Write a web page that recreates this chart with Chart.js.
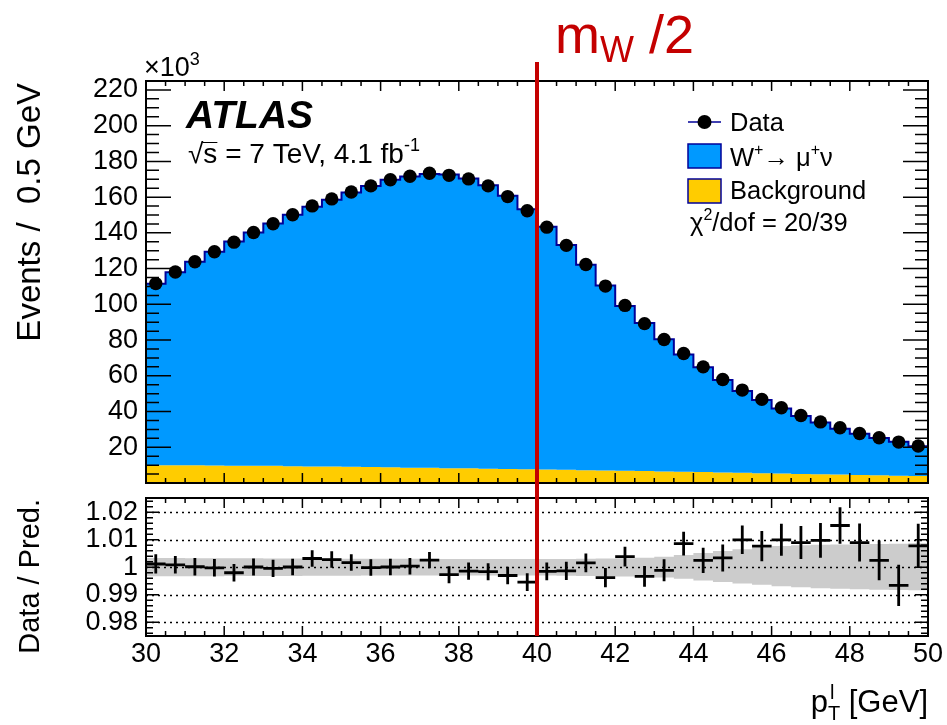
<!DOCTYPE html>
<html>
<head>
<meta charset="utf-8">
<script src="https://cdn.jsdelivr.net/npm/chart.js@4.4.1/dist/chart.umd.min.js"></script>
<style>
  body { margin: 0; background: #fff; }
  #wrap { position: relative; width: 947px; height: 725px; }
  #main { position: absolute; left: 0; top: 0; }
  #ratio { position: absolute; left: 0; top: 490px; }
</style>
</head>
<body>
<div id="wrap">
  <canvas id="main" width="947" height="490"></canvas>
  <canvas id="ratio" width="947" height="235"></canvas>
</div>
<script>
// bin centres, pT of the lepton in GeV (0.5 GeV bins)
var ptBins = [30.25, 30.75, 31.25, 31.75, 32.25, 32.75, 33.25, 33.75, 34.25, 34.75,
              35.25, 35.75, 36.25, 36.75, 37.25, 37.75, 38.25, 38.75, 39.25, 39.75,
              40.25, 40.75, 41.25, 41.75, 42.25, 42.75, 43.25, 43.75, 44.25, 44.75,
              45.25, 45.75, 46.25, 46.75, 47.25, 47.75, 48.25, 48.75, 49.25, 49.75]

// events / 0.5 GeV, in units of 10^3
var dataEvents = [111.6, 118.1, 123.8, 129.4, 134.8, 140.2, 145.1, 150.1, 155.1, 159.0,
                  162.9, 166.3, 169.7, 171.7, 173.4, 172.2, 170.2, 166.3, 160.3, 152.4,
                  143.2, 133.0, 122.3, 110.2, 99.4, 89.2, 80.3, 72.5, 65.0, 57.9,
                  52.0, 46.8, 42.1, 37.8, 34.2, 30.9, 27.7, 25.3, 22.9, 20.7]
var signalWmunu = [101.5, 108.0, 113.9, 119.6, 125.4, 130.5, 135.6, 140.7, 145.3, 149.4,
                   153.5, 157.4, 160.9, 163.0, 164.5, 164.4, 162.2, 158.6, 153.0, 145.5,
                   135.9, 125.8, 114.9, 103.6, 92.1, 82.8, 73.9, 65.6, 58.7, 51.8,
                   45.8, 40.9, 36.4, 32.4, 29.0, 25.7, 23.0, 20.9, 19.0, 16.6]
var background = [10.0, 10.0, 9.9, 9.8, 9.7, 9.7, 9.6, 9.4, 9.3, 9.2,
                  9.1, 8.9, 8.8, 8.6, 8.5, 8.3, 8.2, 8.0, 7.8, 7.7,
                  7.5, 7.4, 7.2, 7.0, 6.9, 6.7, 6.5, 6.3, 6.1, 5.9,
                  5.7, 5.5, 5.3, 5.1, 4.9, 4.7, 4.5, 4.3, 4.1, 3.9]

// data / prediction
var ratio = [1.0012, 1.0009, 1.0002, 0.9998, 0.9980, 1.0001, 0.9996, 1.0001, 1.0032, 1.0028,
             1.0017, 0.9999, 1.0001, 1.0004, 1.0026, 0.9973, 0.9986, 0.9984, 0.9970, 0.9946,
             0.9985, 0.9987, 1.0016, 0.9962, 1.0039, 0.9967, 0.9989, 1.0086, 1.0025, 1.0034,
             1.0100, 1.0077, 1.0100, 1.0090, 1.0098, 1.0152, 1.0090, 1.0025, 0.9934, 1.0078]
var ratioErr = [0.0035, 0.0032, 0.0032, 0.0032, 0.0032, 0.0031, 0.0031, 0.0030, 0.0030, 0.0030,
                0.0030, 0.0030, 0.0030, 0.0030, 0.0030, 0.0031, 0.0031, 0.0031, 0.0032, 0.0032,
                0.0032, 0.0033, 0.0034, 0.0035, 0.0036, 0.0038, 0.0040, 0.0043, 0.0046, 0.0049,
                0.0052, 0.0055, 0.0058, 0.0060, 0.0063, 0.0066, 0.0069, 0.0072, 0.0075, 0.0080]
// prediction uncertainty band (grey), up and down
var bandUp = [0.0034, 0.0034, 0.0033, 0.0033, 0.0033, 0.0033, 0.0032, 0.0032, 0.0032, 0.0032,
              0.0031, 0.0031, 0.0031, 0.0031, 0.0030, 0.0030, 0.0030, 0.0030, 0.0030, 0.0030,
              0.0030, 0.0030, 0.0031, 0.0032, 0.0033, 0.0035, 0.0038, 0.0045, 0.0052, 0.0059,
              0.0066, 0.0072, 0.0077, 0.0080, 0.0082, 0.0083, 0.0084, 0.0085, 0.0086, 0.0087]
var bandDown = [0.0033, 0.0033, 0.0033, 0.0033, 0.0032, 0.0032, 0.0032, 0.0032, 0.0031, 0.0031,
                0.0031, 0.0030, 0.0030, 0.0030, 0.0030, 0.0030, 0.0030, 0.0030, 0.0030, 0.0030,
                0.0030, 0.0031, 0.0032, 0.0033, 0.0034, 0.0035, 0.0037, 0.0042, 0.0048, 0.0054,
                0.0059, 0.0064, 0.0069, 0.0073, 0.0076, 0.0078, 0.0080, 0.0082, 0.0083, 0.0084]

var xTicks = [30, 32, 34, 36, 38, 40, 42, 44, 46, 48, 50]
var yTicksMain = [20, 40, 60, 80, 100, 120, 140, 160, 180, 200, 220]
var yTicksRatio = [0.98, 0.99, 1, 1.01, 1.02]
var mWHalf = 40

var FONT = '"Liberation Sans", Arial, Helvetica, sans-serif'
var RED = '#c40000'
var BLUE = '#0099ff'
var YELLOW = '#ffcc00'
var NAVY = '#000099'

// stepped histogram points: lower edges + closing edge
function histPts(vals) {
  var pts = vals.map((v, i) => ({x: ptBins[i] - 0.25, y: v}))
  pts.push({x: ptBins[ptBins.length - 1] + 0.25, y: vals[vals.length - 1]})
  return pts
}

// draw a run of text pieces: [text, size, dy, weight]
function textRun(ctx, x, y, parts) {
  parts.forEach(p => {
    ctx.font = (p[3] || '') + ' ' + p[1] + 'px ' + FONT
    ctx.fillText(p[0], x, y + (p[2] || 0))
    x += ctx.measureText(p[0]).width
  })
  return x
}

// fixed axis box, no label overflow padding
function fixY(s) {
  s.width = 146
  s.paddingTop = 0
  s.paddingBottom = 0
}

// root-style inside ticks on all four sides + frame
function drawFrame(chart, o) {
  var ctx = chart.ctx, a = chart.chartArea, xs = chart.scales.x, ys = chart.scales.y
  ctx.save()
  ctx.strokeStyle = '#000'
  ctx.lineWidth = 1.5
  ctx.beginPath()
  for (var k = 60; k <= 100; k++) {
    var v = k * 0.5
    var px = xs.getPixelForValue(v)
    var len = (k % 4 == 0) ? o.xMajor : o.xMinor
    ctx.moveTo(px, a.bottom); ctx.lineTo(px, a.bottom - len)
    ctx.moveTo(px, a.top); ctx.lineTo(px, a.top + len)
  }
  var k0 = Math.ceil(ys.min / o.yStep - 1e-6), k1 = Math.floor(ys.max / o.yStep + 1e-6)
  for (var j = k0; j <= k1; j++) {
    var py = ys.getPixelForValue(j * o.yStep)
    var l = (j % o.yEvery == 0) ? o.yMajor : o.yMinor
    ctx.moveTo(a.left, py); ctx.lineTo(a.left + l, py)
    ctx.moveTo(a.right, py); ctx.lineTo(a.right - l, py)
  }
  ctx.stroke()
  ctx.lineWidth = 2
  ctx.strokeRect(a.left, a.top, a.right - a.left, a.bottom - a.top)
  ctx.restore()
}

var mainDecor = {
  id: 'mainDecor',
  afterDraw(chart) {
    var ctx = chart.ctx, xs = chart.scales.x, a = chart.chartArea
    drawFrame(chart, {xMajor: 10, xMinor: 5, yStep: 5, yEvery: 4, yMajor: 25, yMinor: 13})
    ctx.save()
    ctx.fillStyle = '#000'
    ctx.textBaseline = 'alphabetic'
    ctx.textAlign = 'left'
    // x10^3
    textRun(ctx, 144, 76, [['\u00d710', 27], ['3', 18, -11]])
    // ATLAS label
    textRun(ctx, 186, 128, [['ATLAS', 39, 0, 'italic bold']])
    var sx = textRun(ctx, 188, 163, [['\u221a', 28]])
    ctx.font = '28px ' + FONT
    var sw = ctx.measureText('s').width
    ctx.lineWidth = 1
    ctx.beginPath(); ctx.moveTo(sx - 1, 142.5); ctx.lineTo(sx + sw, 142.5); ctx.stroke()
    textRun(ctx, sx, 163, [['s = 7 TeV, 4.1 fb', 28], ['-1', 18, -12]])
    // legend
    ctx.strokeStyle = NAVY
    ctx.lineWidth = 1.5
    ctx.beginPath(); ctx.moveTo(688, 122); ctx.lineTo(721, 122); ctx.stroke()
    ctx.beginPath(); ctx.arc(704.5, 122, 7, 0, Math.PI * 2); ctx.fill()
    ctx.fillStyle = BLUE; ctx.fillRect(688, 144, 33, 24); ctx.strokeRect(688, 144, 33, 24)
    ctx.fillStyle = YELLOW; ctx.fillRect(688, 179, 33, 24); ctx.strokeRect(688, 179, 33, 24)
    ctx.fillStyle = '#000'
    textRun(ctx, 730, 131, [['Data', 25.5]])
    textRun(ctx, 730, 166, [['W', 25.5], ['+', 16, -11], ['\u2192 \u03bc', 25.5], ['+', 16, -11], ['\u03bd', 25.5]])
    textRun(ctx, 730, 199, [['Background', 25.5]])
    textRun(ctx, 690, 231, [['\u03c7', 25.5], ['2', 16, -11], ['/dof = 20/39', 25.5]])
    // m_W / 2 marker
    var rx = xs.getPixelForValue(mWHalf)
    ctx.fillStyle = RED
    textRun(ctx, 555, 53, [['m', 54], ['W', 36, 9], [' /2', 54]])
    ctx.strokeStyle = RED
    ctx.lineWidth = 4
    ctx.beginPath(); ctx.moveTo(rx, 62); ctx.lineTo(rx, chart.height); ctx.stroke()
    // y title
    ctx.fillStyle = '#000'
    ctx.translate(31, 83)
    ctx.rotate(-Math.PI / 2)
    ctx.textAlign = 'right'
    ctx.textBaseline = 'middle'
    ctx.font = '33px ' + FONT
    ctx.fillText('Events /  0.5 GeV', 0, 0)
    ctx.restore()
  }
}

var ratioDecor = {
  id: 'ratioDecor',
  afterDatasetsDraw(chart) {
    var ctx = chart.ctx, a = chart.chartArea, ys = chart.scales.y
    ctx.save()
    ctx.strokeStyle = '#000'
    ctx.lineWidth = 1.5
    ctx.setLineDash([2, 4])
    yTicksRatio.forEach(v => {
      var py = Math.round(ys.getPixelForValue(v)) + 0.5
      ctx.beginPath(); ctx.moveTo(a.left, py); ctx.lineTo(a.right, py); ctx.stroke()
    })
    ctx.restore()
  },
  afterDraw(chart) {
    var ctx = chart.ctx, a = chart.chartArea, xs = chart.scales.x
    drawFrame(chart, {xMajor: 10, xMinor: 5, yStep: 0.002, yEvery: 5, yMajor: 13, yMinor: 7})
    ctx.save()
    var rx = xs.getPixelForValue(mWHalf)
    ctx.strokeStyle = RED
    ctx.lineWidth = 4
    ctx.beginPath(); ctx.moveTo(rx, 0); ctx.lineTo(rx, a.bottom); ctx.stroke()
    ctx.fillStyle = '#000'
    // x title p_T^l [GeV], right aligned on the frame
    ctx.font = '31px ' + FONT
    var w = ctx.measureText('p').width + ctx.measureText(' [GeV]').width
    ctx.font = '20px ' + FONT
    w += ctx.measureText('T').width
    var tx = a.right - w
    var px = textRun(ctx, tx, 222, [['p', 31]])
    textRun(ctx, px, 222, [['T', 20, 8]])
    textRun(ctx, px + 2, 222, [['l', 20, -13]])
    ctx.font = '20px ' + FONT
    textRun(ctx, px + ctx.measureText('T').width, 222, [[' [GeV]', 31]])
    // y title
    ctx.translate(31, 9)
    ctx.rotate(-Math.PI / 2)
    ctx.textAlign = 'right'
    ctx.textBaseline = 'middle'
    ctx.font = '29px ' + FONT
    ctx.fillText('Data / Pred.', 0, 0)
    ctx.restore()
  }
}

var tickFont = {family: FONT, size: 27}
var totalPred = signalWmunu.map((v, i) => v + background[i])

new Chart(document.getElementById('main'), {
  type: 'line',
  data: {
    datasets: [
      { label: 'Background', data: histPts(background), stepped: 'before', fill: 'origin',
        backgroundColor: YELLOW, borderColor: YELLOW, borderWidth: 0, pointRadius: 0, order: 3 },
      { label: 'W+ -> mu+ nu', data: histPts(totalPred), stepped: 'before', fill: 0,
        backgroundColor: BLUE, borderColor: NAVY, borderWidth: 2, pointRadius: 0, order: 2 },
      { label: 'Data', data: ptBins.map((x, i) => ({x: x, y: dataEvents[i]})), showLine: false,
        pointRadius: 6.7, pointBackgroundColor: '#000', pointBorderColor: '#000', pointBorderWidth: 0, order: 1 }
    ]
  },
  options: {
    responsive: false,
    animation: false,
    layout: {padding: {left: 0, right: 19, top: 81, bottom: 7}},
    plugins: {legend: {display: false}, tooltip: {enabled: false}},
    scales: {
      x: { type: 'linear', min: 30, max: 50,
           ticks: {display: false}, grid: {display: false}, border: {display: false},
           afterFit: s => { s.height = 0 } },
      y: { min: 0, max: 225,
           afterBuildTicks: s => { s.ticks = yTicksMain.map(v => ({value: v})) },
           ticks: {font: tickFont, color: '#000', padding: 8, autoSkip: false},
           grid: {display: false, drawTicks: false}, border: {display: false},
           afterFit: fixY }
    }
  },
  plugins: [mainDecor]
})

// crosses for the ratio points, broken with null gaps
var vBars = [], hBars = []
ptBins.forEach((c, i) => {
  vBars.push({x: c, y: ratio[i] - ratioErr[i]}, {x: c, y: ratio[i] + ratioErr[i]}, {x: c, y: null})
  hBars.push({x: c - 0.25, y: ratio[i]}, {x: c + 0.25, y: ratio[i]}, {x: c + 0.25, y: null})
})

new Chart(document.getElementById('ratio'), {
  type: 'line',
  data: {
    datasets: [
      { data: histPts(bandDown.map(v => 1 - v)), stepped: 'before', fill: false,
        borderWidth: 0, borderColor: 'rgba(0,0,0,0)', pointRadius: 0, order: 4 },
      { data: histPts(bandUp.map(v => 1 + v)), stepped: 'before', fill: 0,
        backgroundColor: '#cccccc', borderWidth: 0, borderColor: 'rgba(0,0,0,0)', pointRadius: 0, order: 3 },
      { data: vBars, borderColor: '#000', borderWidth: 2.8, pointRadius: 0, fill: false, spanGaps: false, order: 1 },
      { data: hBars, borderColor: '#000', borderWidth: 2.8, pointRadius: 0, fill: false, spanGaps: false, order: 2 }
    ]
  },
  options: {
    responsive: false,
    animation: false,
    layout: {padding: {left: 0, right: 19, top: 8, bottom: 49}},
    plugins: {legend: {display: false}, tooltip: {enabled: false}},
    scales: {
      x: { type: 'linear', min: 30, max: 50,
           afterBuildTicks: s => { s.ticks = xTicks.map(v => ({value: v})) },
           ticks: {font: tickFont, color: '#000', padding: 2, maxRotation: 0, autoSkip: false},
           grid: {display: false, drawTicks: false}, border: {display: false},
           afterFit: s => { s.height = 40 } },
      y: { min: 0.975, max: 1.0252,
           afterBuildTicks: s => { s.ticks = yTicksRatio.map(v => ({value: v})) },
           ticks: {font: tickFont, color: '#000', padding: 8, autoSkip: false,
                   callback: v => String(+v.toFixed(2))},
           grid: {display: false, drawTicks: false}, border: {display: false},
           afterFit: fixY }
    }
  },
  plugins: [ratioDecor]
})
</script>
</body>
</html>
